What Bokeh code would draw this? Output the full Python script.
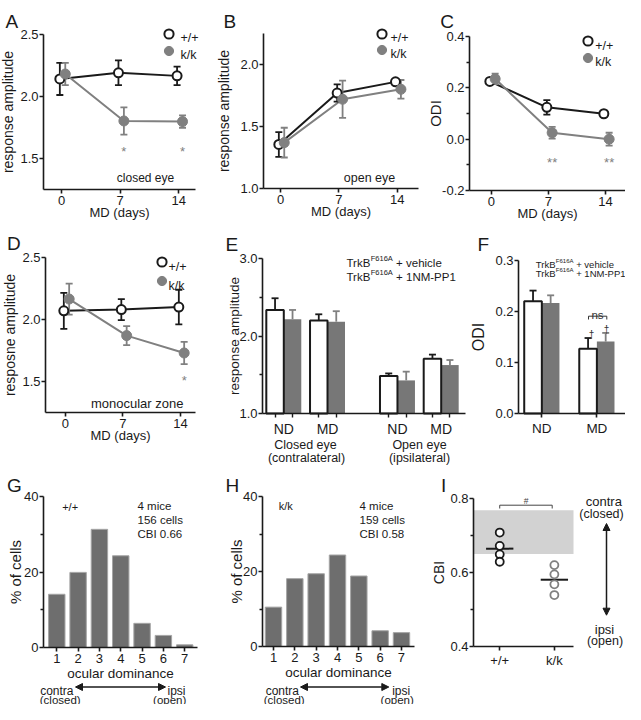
import numpy as np
from bokeh.plotting import figure
from bokeh.layouts import row, column
from bokeh.models import (Range1d, FixedTicker, NumeralTickFormatter, Label, Legend,
                          LegendItem, Arrow, NormalHead)
from bokeh.embed import file_html
from bokeh.resources import INLINE

FONT = "Liberation Sans"
INK = "#1a1a1a"
GREY = "#808080"
BAR_GREY = "#777777"
HIST_GREY = "#6e6e6e"

# ---------------- data ----------------
md_days = [0, 7, 14]
# A: closed eye response amplitude
a_wt = [2.14, 2.19, 2.165]
a_wt_err = [0.13, 0.10, 0.075]
a_kk = [2.18, 1.80, 1.795]
a_kk_err = [0.09, 0.11, 0.05]
# B: open eye response amplitude
b_wt = [1.355, 1.77, 1.86]
b_wt_err = [0.10, 0.07, 0.02]
b_kk = [1.37, 1.72, 1.80]
b_kk_err = [0.12, 0.15, 0.075]
# C: ODI
c_wt = [0.225, 0.124, 0.099]
c_wt_err = [0.010, 0.028, 0.010]
c_kk = [0.235, 0.025, 0.000]
c_kk_err = [0.020, 0.023, 0.025]
# D: monocular zone
d_wt = [2.07, 2.08, 2.10]
d_wt_err = [0.145, 0.085, 0.14]
d_kk = [2.165, 1.87, 1.73]
d_kk_err = [0.125, 0.077, 0.09]
# E: response amplitude, TrkB F616A
e_conditions = ["ND", "MD", "ND", "MD"]
e_eye = ["Closed eye", "(contralateral)", "Open eye", "(ipsilateral)"]
e_vehicle = [2.336, 2.20, 1.483, 1.708]
e_vehicle_err = [0.151, 0.08, 0.034, 0.052]
e_drug = [2.216, 2.185, 1.427, 1.625]
e_drug_err = [0.12, 0.135, 0.113, 0.065]
# F: ODI, TrkB F616A
f_conditions = ["ND", "MD"]
f_vehicle = [0.220, 0.127]
f_vehicle_err = [0.021, 0.021]
f_drug = [0.2167, 0.141]
f_drug_err = [0.015, 0.017]
# G/H: ocular dominance histograms (% of cells)
od_scores = [1, 2, 3, 4, 5, 6, 7]
g_pct = [14.1, 19.9, 31.3, 24.3, 6.4, 3.2, 0.7]
h_pct = [10.5, 18.1, 19.4, 24.4, 18.8, 4.2, 3.7]
# I: CBI per mouse
i_groups = ["+/+", "k/k"]
i_wt = [0.708, 0.672, 0.649, 0.629]
i_kk = [0.620, 0.595, 0.568, 0.539]
band_lo, band_hi = 0.65, 0.768

WT_DX, KK_DX = -0.2, 0.45


class Panel:
    """canvas: layout-pixel box of the figure; shift: layout = reference + shift;
    frame: reference-pixel box of the axes; xr / yr: data values at the axes edges.
    The plotting frame covers the whole canvas; axes are drawn at fixed locations."""

    def __init__(self, canvas, shift, frame, xr, yr):
        self.cx0, self.cy0, self.cx1, self.cy1 = canvas
        self.dx, self.dy = shift
        self.fx0, self.fy0, self.fx1, self.fy1 = frame
        self.xr, self.yr = xr, yr
        self.kx = (xr[1] - xr[0]) / (self.fx1 - self.fx0)
        self.ky = (yr[1] - yr[0]) / (self.fy1 - self.fy0)
        self.p = figure(width=self.cx1 - self.cx0, height=self.cy1 - self.cy0,
                        x_range=Range1d(self.X(self.cx0 - self.dx), self.X(self.cx1 - self.dx)),
                        y_range=Range1d(self.Y(self.cy1 - self.dy), self.Y(self.cy0 - self.dy)),
                        min_border=0, output_backend="svg", toolbar_location=None, tools="")
        p = self.p
        p.outline_line_color = None
        p.xgrid.visible = False
        p.ygrid.visible = False
        p.border_fill_color = "white"

    def X(self, px):
        return self.xr[0] + (px - self.fx0) * self.kx

    def Y(self, py):
        return self.yr[1] - (py - self.fy0) * self.ky

    def axes(self, xticks, yticks, xminor=(), yminor=(), xlabel=None, ylabel=None,
             yfmt=None, xover=None, ylab_size=14, ylab_standoff=0, xlab_size=13,
             xlab_standoff=-3, xtick_size=13, ytick_size=13, xmajor_out=4, xlabel_standoff=2):
        p = self.p
        xa, ya = p.xaxis[0], p.yaxis[0]
        xa.fixed_location = self.yr[0]
        ya.fixed_location = self.xr[0]
        xa.bounds = tuple(self.xr)
        ya.bounds = tuple(self.yr)
        xa.ticker = FixedTicker(ticks=list(xticks), minor_ticks=list(xminor))
        ya.ticker = FixedTicker(ticks=list(yticks), minor_ticks=list(yminor))
        for ax in (xa, ya):
            ax.axis_line_color = INK
            ax.axis_line_width = 1.6
            ax.major_tick_line_color = INK
            ax.major_tick_line_width = 1.6
            ax.minor_tick_line_color = INK
            ax.minor_tick_line_width = 1.4
            ax.major_tick_in = 0
            ax.minor_tick_in = 0
            ax.major_tick_out = 4
            ax.minor_tick_out = 3
            ax.major_label_text_font = FONT
            ax.major_label_text_color = INK
            ax.axis_label_text_font = FONT
            ax.axis_label_text_font_style = "normal"
            ax.axis_label_text_color = INK
        xa.major_tick_out = xmajor_out
        xa.minor_tick_out = 4
        xa.major_label_text_font_size = f"{xtick_size}px"
        ya.major_label_text_font_size = f"{ytick_size}px"
        xa.major_label_standoff = xlabel_standoff
        ya.major_label_standoff = 1
        if yfmt:
            ya.formatter = NumeralTickFormatter(format=yfmt)
        if xover:
            d = {}
            for k, v in xover.items():
                d[k] = v
                d[str(k)] = v
            xa.major_label_overrides = d
        if xlabel:
            xa.axis_label = xlabel
            xa.axis_label_text_font_size = f"{xlab_size}px"
            xa.axis_label_standoff = xlab_standoff
        if ylabel:
            ya.axis_label = ylabel
            ya.axis_label_text_font_size = f"{ylab_size}px"
            ya.axis_label_standoff = ylab_standoff

    def text(self, px, py, s, size, align="left", color=INK, baseline="alphabetic"):
        self.p.add_layout(Label(x=self.X(px), y=self.Y(py), text=s, text_font=FONT,
                                text_font_size=f"{size}px", text_align=align,
                                text_baseline=baseline, text_color=color))

    def text_dx(self, xd, py, s, size, align="center", color=INK):
        self.p.add_layout(Label(x=xd, y=self.Y(py), text=s, text_font=FONT,
                                text_font_size=f"{size}px", text_align=align,
                                text_baseline="alphabetic", text_color=color))

    def legend_marker(self, renderer, cx, cy, box):
        lx = cx + self.dx - box / 2 - self.cx0
        ly = self.cy1 - (cy + self.dy + box / 2)
        lg = Legend(items=[LegendItem(label=" ", renderers=[renderer])],
                    location=(lx, ly),
                    glyph_width=box, glyph_height=box, label_height=box, label_width=0,
                    padding=0, spacing=0, margin=0, label_standoff=0,
                    border_line_color=None, background_fill_alpha=0,
                    label_text_font_size="1px")
        self.p.add_layout(lg)

    def arrow(self, x0, y0, x1, y1):
        self.p.add_layout(Arrow(x_start=self.X(x0), y_start=self.Y(y0),
                                x_end=self.X(x1), y_end=self.Y(y1),
                                start=NormalHead(size=7, fill_color=INK, line_color=INK, line_width=1),
                                end=NormalHead(size=7, fill_color=INK, line_color=INK, line_width=1),
                                line_color=INK, line_width=1.5))


def md_panel(P, wt, wt_err, kk, kk_err):
    p = P.p
    xw = [d + WT_DX for d in md_days]
    xk = [d + KK_DX for d in md_days]
    p.line(xw, wt, line_color=INK, line_width=2)
    p.line(xk, kk, line_color=GREY, line_width=2)
    for xs, ys, es, col in ((xw, wt, wt_err, INK), (xk, kk, kk_err, GREY)):
        lo = [y - e for y, e in zip(ys, es)]
        hi = [y + e for y, e in zip(ys, es)]
        p.segment(x0=xs, y0=lo, x1=xs, y1=hi, line_color=col, line_width=1.8)
        p.scatter(x=xs + xs, y=lo + hi, marker="dash", size=7, line_color=col, line_width=1.8)
    r_wt = p.scatter(x=xw, y=wt, size=9, fill_color="white", line_color=INK, line_width=2)
    r_kk = p.scatter(x=xk, y=kk, size=10, fill_color=GREY, line_color=GREY, line_width=1)
    return r_wt, r_kk


def up_errors(p, xs, tops, errs, col):
    hi = [t + e for t, e in zip(tops, errs)]
    p.segment(x0=xs, y0=tops, x1=xs, y1=hi, line_color=col, line_width=1.8)
    p.scatter(x=xs, y=hi, marker="dash", size=7, line_color=col, line_width=1.8)


def trkb_legend(P, bx, by1, by2, box, tx, size, sup_size, lines):
    p = P.p
    r_v = p.scatter(x=[], y=[], marker="square", size=box * 0.4, fill_color="white",
                    line_color=INK, line_width=1)
    r_d = p.scatter(x=[], y=[], marker="square", size=box * 0.4, fill_color=BAR_GREY,
                    line_color=BAR_GREY, line_width=1)
    P.legend_marker(r_v, bx, by1, box)
    P.legend_marker(r_d, bx, by2, box)
    w_trkb = 2.111 * size
    w_sup = 2.946 * sup_size
    for cy, rest in ((by1, lines[0]), (by2, lines[1])):
        base = cy + 0.36 * size
        P.text(tx, base, "TrkB", size)
        P.text(tx + w_trkb, base - 0.38 * size, "F616A", sup_size)
        P.text(tx + w_trkb + w_sup + 0.278 * size, base, rest, size)


# ---------------- A ----------------
PA = Panel((0, 0, 210, 225), (0, 0), (43, 34, 195, 189), (-2.15, 16.0), (1.245, 2.5))
PA.axes(md_days, [1.5, 2.0, 2.5], xlabel="MD (days)", ylabel="response amplitude",
        yfmt="0.0", ylab_standoff=1)
rw, rk = md_panel(PA, a_wt, a_wt_err, a_kk, a_kk_err)
PA.legend_marker(rw, 168.3, 33.3, 23)
PA.legend_marker(rk, 168.3, 50, 23)
PA.text(180, 37.5, "+/+", 12.5)
PA.text(180, 54.3, "k/k", 12.5)
PA.text(145, 177, "closed eye", 12, align="center")
for i in (1, 2):
    PA.text_dx(md_days[i] + KK_DX, 151.4, "*", 13, color=GREY)
PA.text(5, 20.5, "A", 19)

# ---------------- B ----------------
PB = Panel((210, 0, 420, 225), (0, 0), (263, 33, 418, 188), (-2.04, 16.56), (1.0, 2.25))
PB.axes(md_days, [1.0, 1.5, 2.0], xlabel="MD (days)", ylabel="response amplitude",
        yfmt="0.0", ylab_standoff=5)
rw, rk = md_panel(PB, b_wt, b_wt_err, b_kk, b_kk_err)
PB.legend_marker(rw, 381.7, 33.3, 23)
PB.legend_marker(rk, 381.7, 49.3, 23)
PB.text(390, 37.6, "+/+", 12.5)
PB.text(390, 53.6, "k/k", 12.5)
PB.text(369, 177, "open eye", 12.5, align="center")
PB.text(223, 20.5, "B", 19)

# ---------------- C ----------------
PC = Panel((420, 0, 625, 225), (-12, 0), (481, 36, 637, 190), (-2.70, 16.46), (-0.2, 0.4))
PC.axes(md_days, [-0.2, 0.0, 0.2, 0.4], yminor=[-0.1, 0.1, 0.3], xlabel="MD (days)",
        ylabel="ODI", yfmt="0.0", ylab_size=15, ylab_standoff=-5)
rw, rk = md_panel(PC, c_wt, c_wt_err, c_kk, c_kk_err)
PC.legend_marker(rw, 599.3, 40.7, 23)
PC.legend_marker(rk, 599.3, 57.3, 23)
PC.text(606.7, 45, "+/+", 12.5)
PC.text(606.7, 61.6, "k/k", 12.5)
for i in (1, 2):
    PC.text_dx(md_days[i] + KK_DX, 162.4, "**", 13, color=GREY)
PC.text(451.7, 20.5, "C", 19)

# ---------------- D ----------------
PD = Panel((0, 225, 210, 465), (0, -6), (45, 263, 195, 418), (-2.43, 15.83), (1.25, 2.5))
PD.axes(md_days, [1.5, 2.0, 2.5], xlabel="MD (days)", ylabel="resposne amplitude",
        yfmt="0.0", ylab_standoff=1)
rw, rk = md_panel(PD, d_wt, d_wt_err, d_kk, d_kk_err)
PD.legend_marker(rw, 161.7, 267.7, 23)
PD.legend_marker(rk, 161.7, 286.7, 23)
PD.text(168, 272, "+/+", 12.5)
PD.text(168, 291, "k/k", 12.5)
PD.text(136.7, 409, "monocular zone", 13, align="center")
PD.text_dx(md_days[2] + KK_DX, 385.7, "*", 13, color=GREY)
PD.text(6.5, 249, "D", 19)

# ---------------- E ----------------
PE = Panel((210, 225, 466, 465), (0, -6), (262, 264, 465, 419), (-0.487, 4.156), (1.0, 3.0))
E_X = [0, 1, 2.6, 3.6]
E_BW = 0.4
ev_x = [c - E_BW / 2 for c in E_X]
ed_x = [c + E_BW / 2 for c in E_X]
pe = PE.p
pe.vbar(x=ed_x, top=e_drug, width=E_BW, bottom=1.0, fill_color=BAR_GREY, line_color=None)
pe.vbar(x=ev_x, top=e_vehicle, width=E_BW, bottom=1.0, fill_color="white",
        line_color=INK, line_width=2)
up_errors(pe, ev_x, e_vehicle, e_vehicle_err, INK)
up_errors(pe, ed_x, e_drug, e_drug_err, GREY)
PE.axes(E_X, [1.0, 2.0, 3.0], xminor=ev_x + ed_x, yminor=[1.5, 2.5],
        ylabel="response amplitude", yfmt="0.0", ylab_size=13.5, ylab_standoff=-6,
        xover=dict(zip(E_X, e_conditions)), xtick_size=14, xmajor_out=0, xlabel_standoff=3)
PE.text(305, 450.5, e_eye[0], 12.5, align="center")
PE.text(306, 463, e_eye[1], 12.5, align="center")
PE.text(419, 450.5, e_eye[2], 12.5, align="center")
PE.text(419, 463, e_eye[3], 12.5, align="center")
trkb_legend(PE, 340, 264.7, 278, 16, 346, 11.5, 7.5, ("+ vehicle", "+ 1NM-PP1"))
PE.text(225, 250, "E", 19)

# ---------------- F ----------------
PF = Panel((466, 225, 625, 465), (-8, -6), (526, 266, 633, 419), (-0.424, 1.52), (0.0, 0.3))
F_X = [0, 1]
F_BW = 0.32
fv_x = [c - F_BW / 2 for c in F_X]
fd_x = [c + F_BW / 2 for c in F_X]
pf = PF.p
pf.vbar(x=fd_x, top=f_drug, width=F_BW, bottom=0, fill_color=BAR_GREY, line_color=None)
pf.vbar(x=fv_x, top=f_vehicle, width=F_BW, bottom=0, fill_color="white",
        line_color=INK, line_width=2)
up_errors(pf, fv_x, f_vehicle, f_vehicle_err, INK)
up_errors(pf, fd_x, f_drug, f_drug_err, GREY)
PF.axes(F_X, [0.0, 0.1, 0.2, 0.3], ylabel="ODI", yfmt="0.0", ylab_size=16,
        ylab_standoff=5, xover=dict(zip(F_X, f_conditions)), xtick_size=13.5,
        xlabel_standoff=3)
pf.line(x=[PF.X(596), PF.X(596), PF.X(614.3), PF.X(614.3)],
        y=[PF.Y(325), PF.Y(321.7), PF.Y(321.7), PF.Y(325)], line_color="#333333", line_width=1)
PF.text(605, 320, "ns", 11.5, align="center", color="#333333")
PF.text(599, 339.5, "\u2020", 10, align="center", color="#333333")
PF.text(614, 334.5, "\u2020", 10, align="center", color="#333333")
trkb_legend(PF, 538.3, 266.7, 275.7, 14, 543.3, 9.5, 6, ("+ vehicle", "+ 1NM-PP1"))
PF.text(485, 250, "F", 19)

# ---------------- G ----------------
PG = Panel((0, 465, 210, 704), (0, -12), (43, 508, 197, 659), (0.377, 7.6), (0, 40))
PG.p.vbar(x=od_scores, top=g_pct, width=0.77, bottom=0, fill_color=HIST_GREY,
          line_color="#a5a5a5", line_width=1)
PG.axes(od_scores, [0, 20, 40], yminor=[10, 30], xlabel="ocular dominance",
        ylabel="% of cells", ylab_size=15, ylab_standoff=-3, xlab_size=13.5, xlab_standoff=0)
PG.text(61.7, 518.5, "+/+", 11)
PG.text(137, 517.3, "4 mice", 11.5)
PG.text(137, 531.7, "156 cells", 11.5)
PG.text(137, 545, "CBI  0.66", 11.5)
PG.arrow(75, 698.5, 165, 698.5)
PG.text(73, 702.5, "contra", 12, align="right")
PG.text(59.7, 711, "(closed)", 11.5, align="center")
PG.text(167, 702.5, "ipsi", 12)
PG.text(169.2, 711, "(open)", 11.5, align="center")
PG.text(6.5, 496.7, "G", 19)

# ---------------- H ----------------
PH = Panel((210, 465, 420, 704), (0, -12), (262, 508, 414, 658), (0.484, 7.61), (0, 40))
PH.p.vbar(x=od_scores, top=h_pct, width=0.77, bottom=0, fill_color=HIST_GREY,
          line_color="#a5a5a5", line_width=1)
PH.axes(od_scores, [0, 20, 40], yminor=[10, 30], xlabel="ocular dominance",
        ylabel="% of cells", ylab_size=15, ylab_standoff=-5, xlab_size=13.5, xlab_standoff=0)
PH.text(278.3, 517.5, "k/k", 11)
PH.text(359, 517.3, "4 mice", 11.5)
PH.text(359, 531.7, "159 cells", 11.5)
PH.text(359, 545, "CBI  0.58", 11.5)
PH.arrow(300, 698.5, 388.3, 698.5)
PH.text(298.5, 702.5, "contra", 12, align="right")
PH.text(283.7, 711, "(closed)", 11.5, align="center")
PH.text(391.7, 702.5, "ipsi", 12)
PH.text(396.7, 711, "(open)", 11.5, align="center")
PH.text(225, 496.7, "H", 19)

# ---------------- I ----------------
PI = Panel((420, 465, 625, 704), (-10, -12), (483, 510, 583, 658), (-0.48, 1.35), (0.4, 0.8))
pi = PI.p
pi.quad(left=[PI.xr[0]], right=[PI.xr[1]], bottom=[band_lo], top=[band_hi],
        fill_color="#d2d2d2", line_color=None)
I_X = [0, 1]
pi.segment(x0=[c - 0.25 for c in I_X], x1=[c + 0.25 for c in I_X],
           y0=[float(np.mean(i_wt)), float(np.mean(i_kk))],
           y1=[float(np.mean(i_wt)), float(np.mean(i_kk))], line_color=INK, line_width=2)
pi.scatter(x=[I_X[0]] * len(i_wt), y=i_wt, size=8, fill_color="white", line_color=INK,
           line_width=1.8)
pi.scatter(x=[I_X[1]] * len(i_kk), y=i_kk, size=8, fill_color="white", line_color=GREY,
           line_width=1.8)
PI.axes(I_X, [0.4, 0.6, 0.8], yminor=[0.5, 0.7], ylabel="CBI", yfmt="0.0", ylab_size=14,
        ylab_standoff=0, xover=dict(zip(I_X, i_groups)))
pi.line(x=[I_X[0], I_X[0], PI.X(561.7), PI.X(561.7)],
        y=[PI.Y(520), PI.Y(516.7), PI.Y(516.7), PI.Y(520)], line_color="#444444", line_width=1)
PI.text(535.5, 512.5, "#", 8.5, align="center", color="#444444")
PI.text(613.3, 513.3, "contra", 13, align="center")
PI.text(611, 525.5, "(closed)", 12.5, align="center")
PI.arrow(616, 535, 616, 626.7)
PI.text(614, 640.5, "ipsi", 13, align="center")
PI.text(614.5, 652.5, "(open)", 12.5, align="center")
PI.text(450.5, 496.7, "I", 19)

layout = column(row(PA.p, PB.p, PC.p), row(PD.p, PE.p, PF.p), row(PG.p, PH.p, PI.p))
open("out.html", "w").write(file_html(layout, INLINE))
